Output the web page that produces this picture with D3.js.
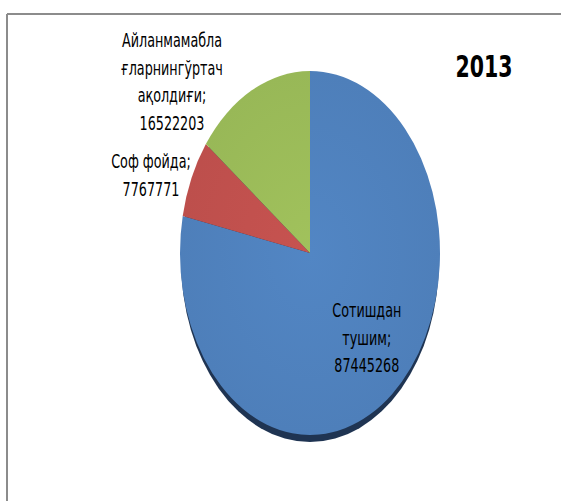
<!DOCTYPE html>
<html>
<head>
<meta charset="utf-8">
<script src="https://cdn.jsdelivr.net/npm/d3@7"></script>
<style>
  body { margin: 0; background: #fff; }
  svg text { font-family: "DejaVu Sans Condensed", "DejaVu Sans", sans-serif; fill: #000; }
</style>
</head>
<body>
<svg id="chart" width="561" height="501"></svg>
<script>
// chart data
var title = "2013";
var categories = ["Сотишдан тушим", "Соф фойда", "Айланмамаблағларнингўртачақолдиғи"];
var values = [87445268, 7767771, 16522203];
var colors = ["#4f81bd", "#c0504d", "#9bbb59"];
var labelLines = [
    ["Сотишдан", "тушим;", "87445268"],
    ["Соф фойда;", "7767771"],
    ["Айланмамабла", "ғларнингўртач", "ақолдиғи;", "16522203"]
];

var svg = d3.select("#chart");

var cx = 310, cy = 253,
    r = 130,
    squash = 1.4; // pie is stretched vertically in the picture

// frame (only top and left edges show)
svg.append("line").attr("x1", 7).attr("y1", 14).attr("x2", 561).attr("y2", 14)
    .attr("stroke", "#8c8c8c").attr("stroke-width", 2);
svg.append("line").attr("x1", 7).attr("y1", 14).attr("x2", 7).attr("y2", 501)
    .attr("stroke", "#8c8c8c").attr("stroke-width", 2);

var defs = svg.append("defs");
colors.forEach(function(c, i) {
    var g = defs.append("radialGradient").attr("id", "grad" + i)
        .attr("gradientUnits", "userSpaceOnUse")
        .attr("cx", 0).attr("cy", 0).attr("r", r);
    g.append("stop").attr("offset", "0%").attr("stop-color", d3.color(c).brighter(0.1));
    g.append("stop").attr("offset", "100%").attr("stop-color", d3.color(c).darker(0.05));
});

var pie = d3.pie().sort(null).value(function(d) { return d; });
var arc = d3.arc().innerRadius(0).outerRadius(r);
var arcs = pie(values);

var g = svg.append("g")
    .attr("transform", "translate(" + cx + "," + cy + ") scale(1," + squash + ")");

// dark rim under the pie
g.append("ellipse")
    .attr("cx", 0).attr("cy", 5)
    .attr("rx", r - 1).attr("ry", r)
    .attr("fill", "#1f3452");

g.selectAll("path.slice")
    .data(arcs)
    .enter().append("path")
    .attr("class", "slice")
    .attr("d", arc)
    .attr("fill", function(d, i) { return "url(#grad" + i + ")"; });

// label anchors (centre of each text block)
var labelPos = [
    function(d) { var a = (d.startAngle + d.endAngle) / 2; return [cx + 90 * Math.sin(a), cy - 78 * Math.cos(a) * squash]; },
    function(d) { return [151, 175]; },
    function(d) { return [172, 81.5]; }
];
var lineH = 27.5;

arcs.forEach(function(d, i) {
    var p = labelPos[i](d);
    var lines = labelLines[i];
    var t = svg.append("g")
        .attr("transform", "translate(" + p[0] + "," + p[1] + ") scale(0.71,1)")
        .append("text")
        .attr("text-anchor", "middle")
        .attr("font-size", 20);
    lines.forEach(function(s, k) {
        t.append("tspan")
            .attr("x", 0)
            .attr("y", (k - (lines.length - 1) / 2) * lineH + 7)
            .text(s);
    });
});

svg.append("g")
    .attr("transform", "translate(484,77) scale(0.76,1)")
    .append("text")
    .attr("text-anchor", "middle")
    .attr("font-size", 30)
    .attr("font-weight", "bold")
    .text(title);
</script>
</body>
</html>
